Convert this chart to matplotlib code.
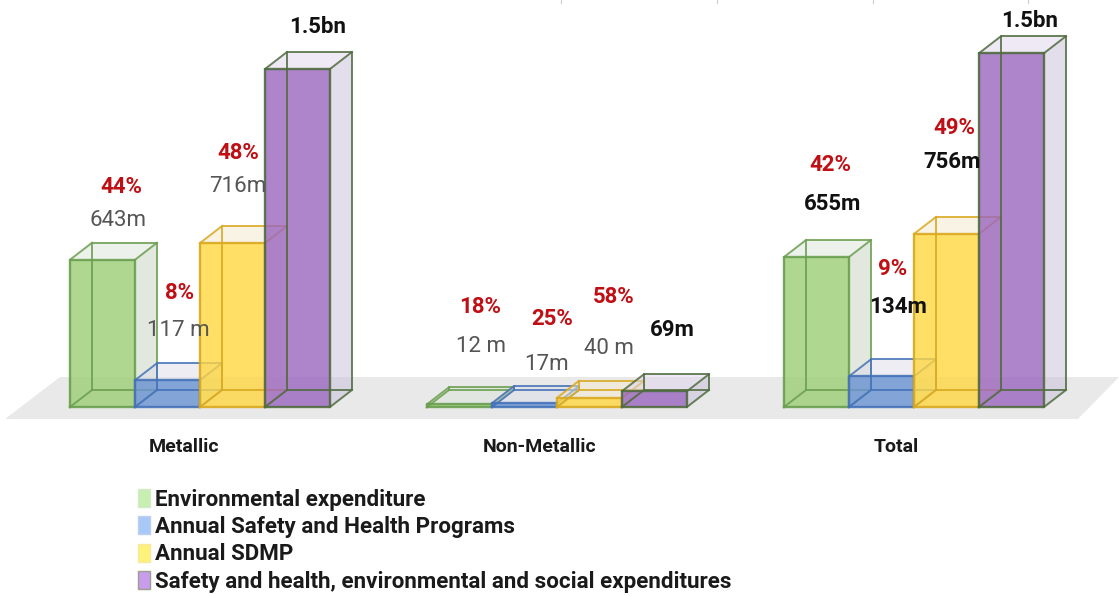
import matplotlib
matplotlib.use('Agg')
import matplotlib.pyplot as plt
from matplotlib.patches import Patch

plt.rcParams['font.family'] = ['Roboto', 'DejaVu Sans']

# Values (millions)
groups = ['Metallic', 'Non-Metallic', 'Total']
series = ['Environmental expenditure', 'Annual Safety and Health Programs', 'Annual SDMP',
          'Safety and health, environmental and social expenditures']
metallic = [643, 117, 716, 1476]
non_metallic = [12, 17, 40, 69]
total = [655, 134, 756, 1545]
values = [metallic, non_metallic, total]

value_labels = [['643m', '117 m', '716m', '1.5bn'],
                ['12 m', '17m', '40 m', '69m'],
                ['655m', '134m', '756m', '1.5bn']]
pct_labels = [['44%', '8%', '48%'],
              ['18%', '25%', '58%'],
              ['42%', '9%', '49%']]

# Styles
front_col = ['#9cce74', '#6a93d3', '#ffd740', '#9a65bf']
side_col = ['#c9d3c1', '#d0d0de', '#f0e6c8', '#c9bfd9']
top_col = ['#dde5d8', '#dddde9', '#f3e9cd', '#dfd5eb']
edge_col = ['#6a9e4f', '#4472b8', '#d9a81f', '#4f6b3f']
legend_col = ['#c8efb2', '#a8c9f8', '#fff27a', '#c89cea']
legend_edge = ['#d5e8c8', '#bcd0ee', '#f5eaa0', '#9aa08e']

# Layout in picture pixels
W, H = 1119, 596
BASE = 407          # baseline row
PX = 0.229          # pixels per unit of value
bar_w = 65
dx, dy = 22, 17
group_x = [70, 427, 784]
group_label_x = [184, 540, 896]
value_pos = [[(118, 220), (178, 331), (238, 186), (318, 27)],
             [(481, 347), (547, 364), (609, 348), (672, 330)],
             [(833, 204), (898, 307), (952, 162), (1030, 21)]]
pct_pos = [[(121, 187), (180, 293), (238, 153)],
           [(480, 307), (552, 319), (614, 297)],
           [(830, 165), (893, 269), (954, 128)]]


def Y(p):
    # picture row to value scale
    return (BASE - p) / PX


fig = plt.figure(figsize=(W / 100, H / 100), dpi=100)
ax = fig.add_axes([0, 0, 1, 1])
ax.set_xlim(0, W)
ax.set_ylim(Y(H), Y(0))
ax.axis('off')

# floor
ax.fill([5, 60, W, 1078], [Y(419), Y(377), Y(377), Y(419)], color='#e9e9e9', lw=0, zorder=1)

# little ticks left at the top of the crop
for x in [561, 717, 873, 1028]:
    ax.plot([x, x], [Y(0), Y(3)], color='#cccccc', lw=0.8, zorder=1)

D = dy / PX
z = 2
for g, vals in enumerate(values):
    for i, v in enumerate(vals):
        x0 = group_x[g] + i * bar_w
        x1 = x0 + bar_w
        e = edge_col[i]
        # side and top, then the front
        ax.fill([x1, x1 + dx, x1 + dx, x1], [0, D, v + D, v], color=side_col[i], alpha=0.5, lw=0, zorder=z)
        ax.fill([x0, x0 + dx, x1 + dx, x1], [v, v + D, v + D, v], color=top_col[i], alpha=0.5, lw=0, zorder=z)
        ax.fill([x0, x1, x1, x0], [0, 0, v, v], color=front_col[i], alpha=0.8, lw=0, zorder=z)
        # wire frame
        ax.plot([x0 + dx, x1 + dx, x1 + dx, x0 + dx, x0 + dx], [D, D, v + D, v + D, D], color=e, lw=1.4, alpha=0.85, zorder=z)
        ax.plot([x0, x1, x1, x0, x0], [0, 0, v, v, 0], color=e, lw=1.7, alpha=0.9, zorder=z)
        for xa, ya in [(x0, 0), (x1, 0), (x1, v), (x0, v)]:
            ax.plot([xa, xa + dx], [ya, ya + D], color=e, lw=1.4, alpha=0.85, zorder=z)
        z += 1

for g in range(3):
    ax.text(group_label_x[g], Y(447), groups[g], ha='center', va='center', fontsize=14,
            fontweight='bold', color='#1a1a1a', zorder=50)
    for i, lab in enumerate(value_labels[g]):
        bold = g == 2 or i == 3
        ax.text(value_pos[g][i][0], Y(value_pos[g][i][1]), lab, ha='center', va='center', fontsize=16,
                fontweight='bold' if bold else 'normal', color='#111111' if bold else '#555555', zorder=50)
    for i, lab in enumerate(pct_labels[g]):
        ax.text(pct_pos[g][i][0], Y(pct_pos[g][i][1]), lab, ha='center', va='center', fontsize=16,
                fontweight='bold', color='#c00f14', zorder=50)

handles = [Patch(facecolor=legend_col[i], edgecolor=legend_edge[i], label=series[i]) for i in range(4)]
leg = ax.legend(handles=handles, loc='upper left', bbox_to_anchor=(131 / W, 1 - 482 / H), frameon=False,
                prop={'size': 16.1, 'weight': 'bold'}, handlelength=0.56, handleheight=0.85,
                handletextpad=0.22, labelspacing=0.24, borderpad=0.3, borderaxespad=0)
for t in leg.get_texts():
    t.set_color('#1a1a1a')

fig.savefig('out.png', dpi=100)
